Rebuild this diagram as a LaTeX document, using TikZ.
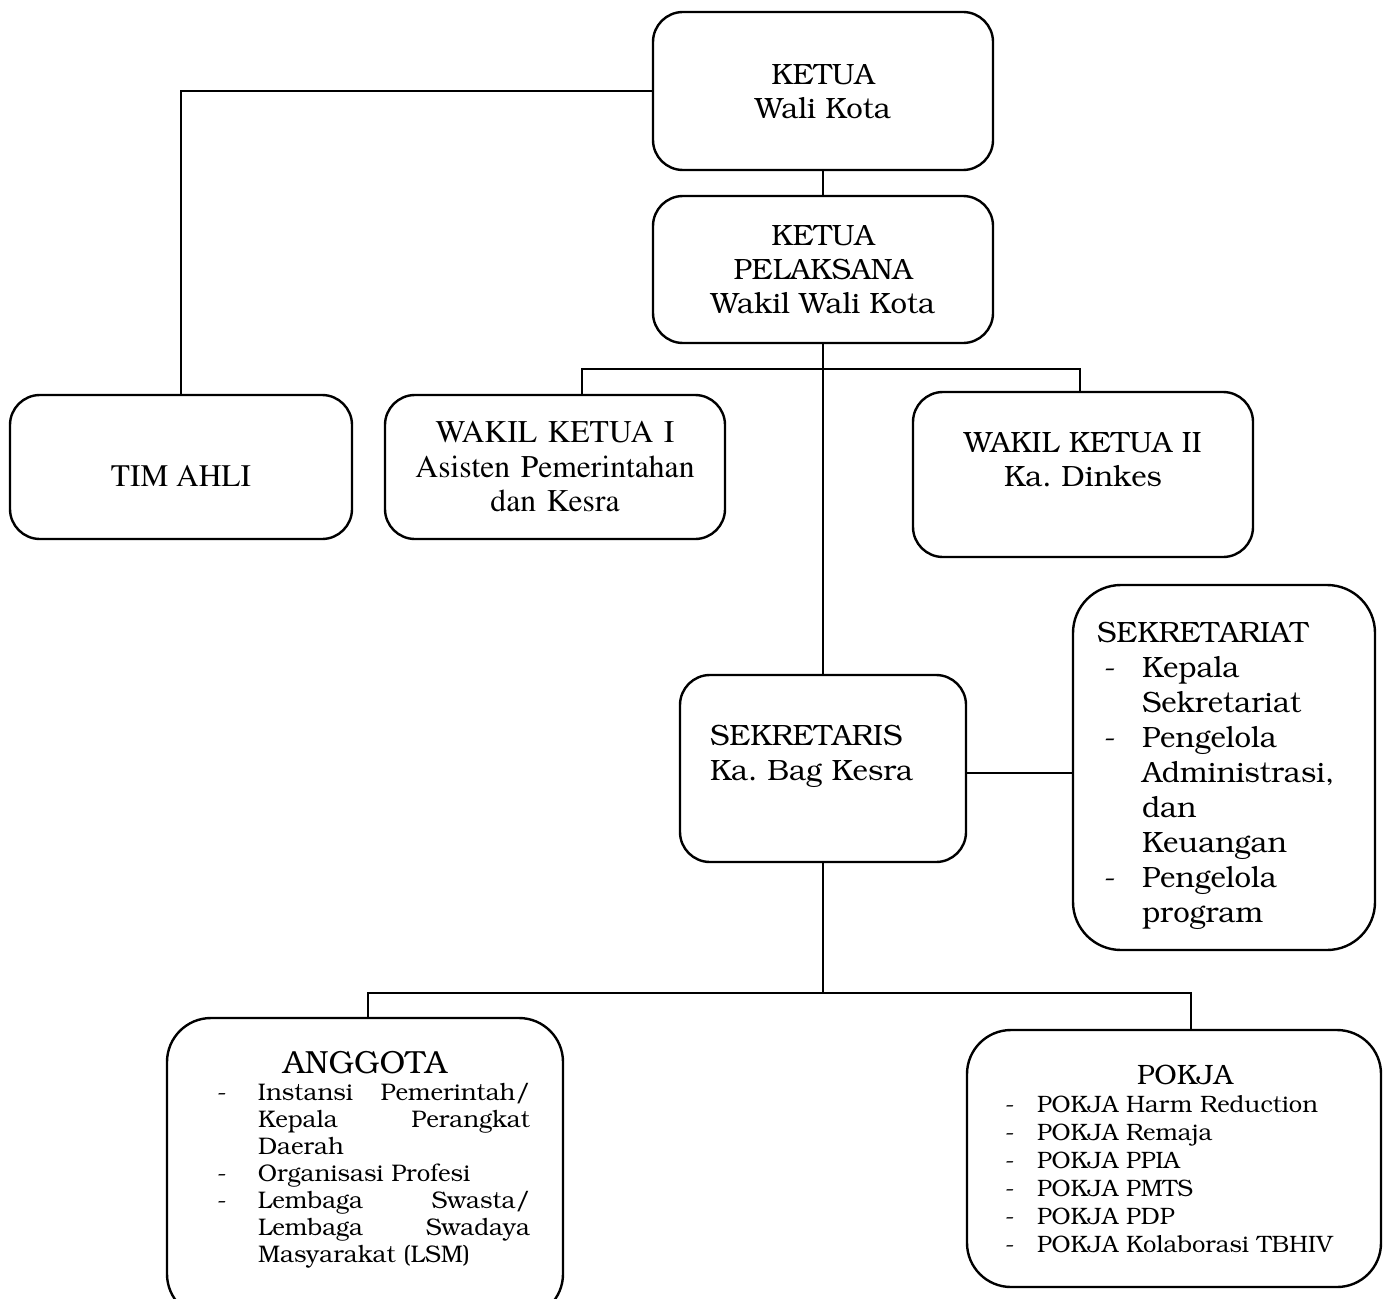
\documentclass[tikz,border=0pt]{standalone}
\usepackage[T1]{fontenc}
\usepackage{bookman}
\usetikzlibrary{positioning}
\newdimen\px \px=0.75pt
\newcommand{\tnr}{\fontfamily{ptm}\selectfont}
\newcommand{\dashline}[2]{\par\hangindent=#2\hangafter=1\noindent\makebox[#2][l]{\hspace*{#1}-}}
\tikzset{
    box/.style  = {shape=rectangle, draw, line width=2.4\px, rounded corners=30\px,
                   inner sep=0pt, align=center, font=\fontsize{22}{25.5}\selectfont},
    bigbox/.style = {box, rounded corners=48\px},
    link/.style = {draw, line width=1.6\px}
}
\begin{document}
\frenchspacing
\begin{tikzpicture}[x=0.75pt, y=-0.75pt]
  \useasboundingbox (0,0) rectangle (1383,1298);
  % top of the chart
  \node [box, minimum width=340\px, minimum height=158\px] (ketua) at (823,91)
        {KETUA\\Wali Kota};
  \node [box, minimum width=340\px, minimum height=147\px] (pelaksana) at (823,269.5)
        {KETUA\\PELAKSANA\\Wakil Wali Kota};
  % second row
  \node [box, minimum width=342\px, minimum height=144\px, text height=40\px, text depth=1\px,
         font=\tnr\fontsize{23.5}{26}\selectfont] (timahli) at (181,467)
        {TIM AHLI};
  \node [box, minimum width=340\px, minimum height=144\px, text width=320\px,
         text height=20\px, text depth=69\px,
         font=\tnr\fontsize{23.7}{26}\selectfont] (wakil1) at (555,467)
        {WAKIL KETUA I\\Asisten Pemerintahan\\dan Kesra};
  \node [box, minimum width=340\px, minimum height=165\px, text width=320\px,
         text height=20\px, text depth=65\px] (wakil2) at (1083,474.5)
        {WAKIL KETUA II\\Ka. Dinkes};
  % secretary and secretariat
  \node [box, minimum width=286\px, minimum height=187\px, text width=226\px, align=left,
         text height=20\px, text depth=67\px, font=\fontsize{22}{26.25}\selectfont] (sekretaris) at (823,768.5)
        {SEKRETARIS\\Ka. Bag Kesra};
  \node [bigbox, minimum width=302\px, minimum height=365\px, text width=254\px, align=left,
         text height=20\px, text depth=271\px, font=\fontsize{22}{26.25}\selectfont] (sekretariat) at (1224,767.5)
        {SEKRETARIAT
         \dashline{7\px}{45\px}Kepala\newline Sekretariat
         \dashline{7\px}{45\px}Pengelola\newline Administrasi,\newline dan\newline Keuangan
         \dashline{7\px}{45\px}Pengelola\newline program\par};
  % bottom row
  \node [bigbox, rounded corners=44\px, minimum width=396\px, minimum height=300\px, text width=330\px,
         align=justify, text height=20\px, text depth=210\px,
         font=\fontsize{18}{20.25}\selectfont] (anggota) at (365,1168)
        {{\centering\fontsize{24}{25}\selectfont ANGGOTA\par}
         \dashline{17\px}{58\px}Instansi Pemerintah/\linebreak Kepala Perangkat\linebreak Daerah
         \dashline{17\px}{58\px}Organisasi Profesi
         \dashline{17\px}{58\px}Lembaga Swasta/\linebreak Lembaga Swadaya\linebreak Masyarakat (LSM)\par};
  \node [bigbox, rounded corners=44\px, minimum width=414\px, minimum height=257\px, text width=368\px,
         align=left, text height=20\px, text depth=168\px,
         font=\fontsize{17.8}{21}\selectfont] (pokja) at (1174,1158.5)
        {{\centering\fontsize{21}{25}\selectfont\hspace*{22\px}POKJA\par}
         \dashline{15\px}{47\px}POKJA Harm Reduction
         \dashline{15\px}{47\px}POKJA Remaja
         \dashline{15\px}{47\px}POKJA PPIA
         \dashline{15\px}{47\px}POKJA PMTS
         \dashline{15\px}{47\px}POKJA PDP
         \dashline{15\px}{47\px}POKJA Kolaborasi TBHIV\par};
  % connectors
  \coordinate (bar1l) at (582,369);
  \coordinate (bar1r) at (1080,369);
  \coordinate (bar2l) at (368,993);
  \coordinate (bar2r) at (1191,993);
  \draw [link] (ketua.west) -| (timahli.north);
  \draw [link] (ketua.south) -- (pelaksana.north);
  \draw [link] (pelaksana.south) -- (sekretaris.north);
  \draw [link] (wakil1.north -| bar1l) -- (bar1l) -- (bar1r) -- (wakil2.north -| bar1r);
  \draw [link] ([yshift=-3.5pt]sekretaris.east) -- ([yshift=-3.5pt]sekretaris.east -| sekretariat.west);
  \draw [link] (sekretaris.south) -- (sekretaris.south |- bar2l);
  \draw [link] (anggota.north -| bar2l) -- (bar2l) -- (bar2r) -- (pokja.north -| bar2r);
\end{tikzpicture}
\end{document}
